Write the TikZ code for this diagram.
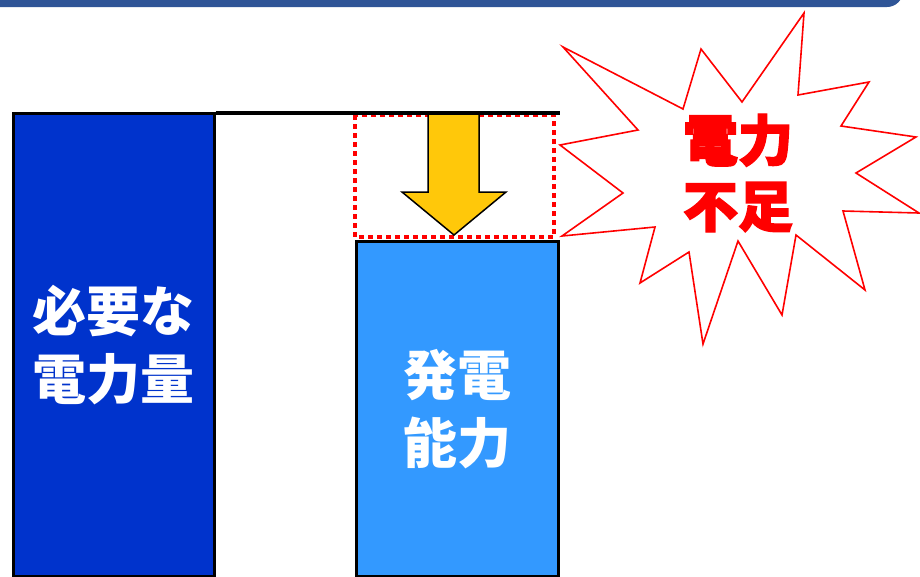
\documentclass[tikz,border=0pt]{standalone}
\usepackage{fontspec}
\newfontfamily\jp{Noto Sans CJK JP}
\newfontfamily\jpheavy{Noto Sans CJK JP}[FakeBold=2.5]
\definecolor{topblue}{RGB}{47,85,151}
\definecolor{needblue}{RGB}{0,51,204}
\definecolor{genblue}{RGB}{51,153,255}
\definecolor{arrowyellow}{RGB}{255,200,10}
\definecolor{alertred}{RGB}{255,0,0}
\tikzset{
  barbox/.style={draw=black, line width=2.5pt, inner sep=0pt, anchor=north west,
    text=white, align=center, font=\jp\bfseries\fontsize{54}{68}\selectfont},
  dotbox/.style={draw=alertred, line width=4.5pt, dash pattern=on 5pt off 4pt},
  levelline/.style={draw=black, line width=4pt},
  downarrow/.style={draw=black, line width=1.5pt, fill=arrowyellow, line join=miter},
  burst/.style={draw=alertred, line width=1.6pt, fill=white, line join=miter},
  bursttext/.style={text=alertred, align=center, font=\jpheavy\bfseries\fontsize{55}{66}\selectfont}
}
\begin{document}
\begin{tikzpicture}[x=1pt,y=-1pt]
\useasboundingbox (0,0) rectangle (920,576);
% top band
\fill[topblue, rounded corners=16pt] (-30,-40) rectangle (903,7);
% dotted shortfall box
\draw[dotbox] (355,115) rectangle (554,237);
% bars
\node[barbox, fill=needblue, minimum width=201pt, minimum height=463pt] (need) at (12,112) {必要な\\電力量};
\node[barbox, fill=genblue, minimum width=202pt, minimum height=335pt] (gen) at (355,240) {発電\\能力};
% level line
\coordinate (lineend) at (560,112.5);
\draw[levelline] (need.north east) ++(0,0.5) -- (lineend);
% arrow
\draw[downarrow] (428,114) -- (479,114) -- (479,192) -- (506,192) -- (454,235) -- (402,192) -- (428,192) -- cycle;
% burst
\draw[burst] (563,47) -- (683,109) -- (701,49) -- (742,102) -- (804,13) -- (798,95)
  -- (869,82) -- (841,126) -- (916,137) -- (856,173) -- (919,213) -- (843,211)
  -- (865,290) -- (796,235) -- (782,315) -- (738,241) -- (703,344) -- (689,252)
  -- (640,283) -- (655,227) -- (562,236) -- (623,193) -- (560,145) -- (638,130) -- cycle;
\node[bursttext] (short) at (738,173) {電力\\不足};
\end{tikzpicture}
\end{document}
